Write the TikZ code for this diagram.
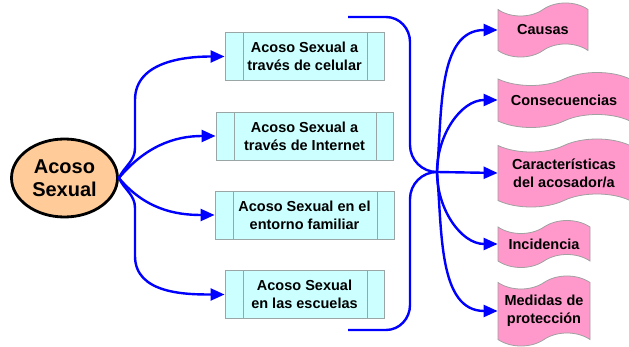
\documentclass[tikz,border=0pt]{standalone}
\usepackage{fontspec}
\setmainfont{Liberation Sans}
\usepackage{tikz}
\usetikzlibrary{arrows.meta,shapes.geometric,shapes.symbols}
\definecolor{linkblue}{HTML}{0000FF}
\definecolor{peach}{HTML}{FFCC99}
\definecolor{boxcyan}{HTML}{CCFFFF}
\definecolor{boxgray}{HTML}{9AA6A6}
\definecolor{pink}{HTML}{FF99CC}
\definecolor{tapegray}{HTML}{A0A0A0}
\tikzset{
  topic/.style={ellipse, draw=black, fill=peach, line width=2.8pt, align=center,
    minimum width=106pt, minimum height=78pt, inner sep=0pt,
    font=\fontsize{20}{23}\selectfont\bfseries},
  kind/.style={rectangle, draw=boxgray, fill=boxcyan, line width=0.9pt, align=center,
    minimum height=48pt, inner sep=0pt, font=\fontsize{14.5}{18}\selectfont\bfseries,
    path picture={
      \draw[boxgray, line width=0.9pt]
        ([xshift=18pt]path picture bounding box.north west) -- ([xshift=18pt]path picture bounding box.south west)
        ([xshift=-17pt]path picture bounding box.north east) -- ([xshift=-17pt]path picture bounding box.south east);
    }},
  aspect/.style={tape, draw=tapegray, fill=pink, line width=0.8pt, align=center,
    tape bend height=13pt, inner sep=0pt, font=\fontsize{14.5}{18}\selectfont\bfseries},
  link/.style={draw=linkblue, line width=2.4pt, -{Triangle[length=14pt,width=12pt]}},
  brace/.style={draw=linkblue, line width=2.4pt}
}
\begin{document}
\begin{tikzpicture}[x=1pt,y=-1pt]
  \useasboundingbox (0,0) rectangle (629,347);

  \node[topic] (ac) at (64.5,178) {Acoso\\Sexual};

  \node[kind, minimum width=159pt] (cel) at (304.5,56.5) {Acoso Sexual a\\trav\'es de celular};
  \node[kind, minimum width=177pt] (int) at (304.5,136) {Acoso Sexual a\\trav\'es de Internet};
  \node[kind, minimum width=179pt] (fam) at (304.5,215) {Acoso Sexual en el\\entorno familiar};
  \node[kind, minimum width=159pt] (esc) at (304.5,294.5) {Acoso Sexual\\en las escuelas};

  \draw[link] (ac.east) to[out=65,in=-90] (135,148) -- (135,100) to[out=90,in=180] (cel.west);
  \draw[link] (ac.east) to[out=50,in=180] (int.west);
  \draw[link] (ac.east) to[out=-50,in=180] (fam.west);
  \draw[link] (ac.east) to[out=-65,in=90] (135,208) -- (135,256) to[out=-90,in=180] (esc.west);

  % bracket joining the four kinds
  \coordinate (btop) at (348,17);
  \coordinate (hub) at (437,172);
  \coordinate (bbot) at (348,330);
  \draw[brace] (btop) -- (386,17) to[out=0,in=90] (410,42) -- (410,145) to[out=-90,in=180] (hub)
    to[out=180,in=90] (410,199) -- (410,305) to[out=-90,in=0] (386,330) -- (bbot);

  \node[aspect, minimum width=90pt, minimum height=54pt] (cau) at (543,30) {Causas};
  \node[aspect, minimum width=132pt, minimum height=55pt] (con) at (564,100) {Consecuencias};
  \node[aspect, minimum width=132pt, minimum height=68pt] (car) at (564,173) {Caracter\'isticas\\del acosador/a};
  \node[aspect, minimum width=92pt, minimum height=47pt] (inc) at (544,244) {Incidencia};
  \node[aspect, minimum width=92pt, minimum height=70pt] (med) at (544,311) {Medidas de\\protecci\'on};

  \draw[link] (hub) to[out=85,in=180] (cau.west);
  \draw[link] (hub) to[out=90,in=180] (con.west);
  \draw[link] (hub) -- (car.west);
  \draw[link] (hub) to[out=-90,in=180] (inc.west);
  \draw[link] (hub) to[out=-85,in=180] (med.west);
\end{tikzpicture}
\end{document}
